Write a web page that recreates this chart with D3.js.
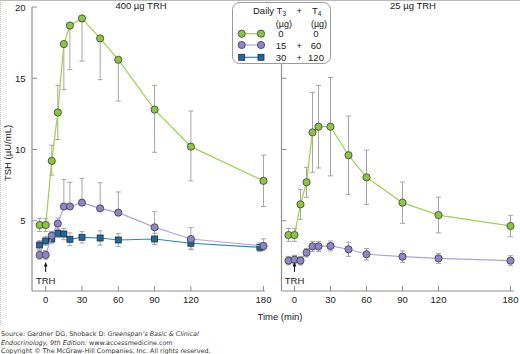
<!DOCTYPE html>
<html>
<head>
<meta charset="utf-8">
<script src="https://cdn.jsdelivr.net/npm/d3@7"></script>
<style>
    body { margin: 0; background: #fff; }
    svg { display: block; font-family: 'Liberation Sans', Arial, sans-serif; }
</style>
</head>
<body>
<div id="chart"></div>
<script>

//
// DATA
//

const times = [-5, 0, 5, 10, 15, 20, 30, 45, 60, 90, 120, 180];
const timesBlue = [-5, 0, 5, 10, 15, 20, 30, 45, 60, 90, 120, 177];
const xTicks = [0, 30, 60, 90, 120, 180];
const yTicks = [5, 10, 15, 20];

// 400 ug TRH
const greenHigh = [4.7, 4.7, 9.2, 12.6, 17.4, 18.7, 19.2, 17.8, 16.3, 12.8, 10.2, 7.8];
const greenHighUp = [0.45, 0.45, 1.1, 1.9, 0, 0, 0, 0, 0, 1.7, 2.5, 1.8];
const greenHighDown = [0.45, 0.45, 1.0, 1.9, 3.2, 3.1, 3.0, 2.9, 2.9, 3.0, 2.4, 1.8];
const purpleHigh = [2.6, 2.6, 3.95, 4.8, 6.0, 6.0, 6.27, 5.87, 5.57, 4.54, 3.72, 3.23];
const purpleHighUp = [0.3, 0.3, 0.3, 0.4, 1.9, 1.7, 1.7, 1.8, 1.45, 1.1, 0.8, 0.5];
const purpleHighDown = [0.3, 0.3, 0.3, 0.4, 0, 0, 0, 0, 0, 1.2, 0.75, 0.3];
const blueHigh = [3.3, 3.58, 3.72, 4.12, 4.07, 3.7, 3.84, 3.79, 3.65, 3.72, 3.42, 3.14];
const blueHighErr = [0.3, 0.3, 0.3, 0.3, 0.4, 0.45, 0.4, 0.5, 0.45, 0.4, 0.4, 0.3];

// 25 ug TRH
const greenLow = [4.0, 4.0, 6.15, 7.7, 11.2, 11.6, 11.6, 9.6, 8.05, 6.27, 5.4, 4.63];
const greenLowErr = [0.45, 0.45, 1.05, 1.05, 2.8, 2.9, 3.45, 2.75, 1.9, 1.45, 1.25, 0.75];
const purpleLow = [2.2, 2.27, 2.2, 2.76, 3.2, 3.2, 3.23, 3.0, 2.65, 2.48, 2.36, 2.2];
const purpleLowErr = [0.3, 0.3, 0.3, 0.3, 0.35, 0.35, 0.35, 0.5, 0.4, 0.4, 0.35, 0.35];

// legend rows
const legendT3 = ['0', '15', '30'];
const legendT4 = ['0', '60', '120'];
const legendPlus = ['', '+', '+'];

//
// STYLES
//

const green = {fill: '#8cc63e', line: '#9ad24e', shape: 'circle'};
const purple = {fill: '#8d85cc', line: '#aaa2de', shape: 'circle'};
const blue = {fill: '#1b6aa6', line: '#2a86c0', shape: 'square'};
const axisColor = '#8f8f8f';
const errColor = '#a6a6a6';

const width = 520;
const height = 354;

const svg = d3.select('#chart')
    .append('svg')
        .attr('width', width)
        .attr('height', height);

// image frame
svg.append('line')
    .attr('x1', 0.5).attr('x2', 0.5).attr('y1', 0).attr('y2', 325)
    .attr('stroke', '#bbb').attr('stroke-dasharray', '1,1');
svg.append('line')
    .attr('x1', 0).attr('x2', width).attr('y1', 0.5).attr('y2', 0.5)
    .attr('stroke', '#bbb');

// shared y scale
const y = d3.scaleLinear()
    .domain([0, 20])
    .range([292, 7]);

const panels = [
    {
        title: '400 µg TRH', titleX: 141,
        axisX: 32, axisTop: 7, axisRight: 265, labels: true,
        x: d3.scaleLinear().domain([0, 180]).range([45.7, 263.5]),
        series: [
            {style: blue, t: timesBlue, v: blueHigh, up: blueHighErr, down: blueHighErr},
            {style: purple, t: times, v: purpleHigh, up: purpleHighUp, down: purpleHighDown},
            {style: green, t: times, v: greenHigh, up: greenHighUp, down: greenHighDown}
        ]
    },
    {
        title: '25 µg TRH', titleX: 413,
        axisX: 281.5, axisTop: 7, axisRight: 514, labels: false,
        x: d3.scaleLinear().domain([0, 180]).range([294.5, 510.5]),
        series: [
            {style: purple, t: times, v: purpleLow, up: purpleLowErr, down: purpleLowErr},
            {style: green, t: times, v: greenLow, up: greenLowErr, down: greenLowErr}
        ]
    }
];

const axisY = 291;

panels.forEach(p => drawPanel(p));

function drawPanel(p) {

    const g = svg.append('g');
    const x = p.x;

    // title
    g.append('text')
        .attr('x', p.titleX)
        .attr('y', 9)
        .attr('text-anchor', 'middle')
        .attr('font-size', 9.5)
        .attr('fill', '#222')
        .text(p.title);

    // axes lines
    g.append('line')
        .attr('x1', p.axisX).attr('x2', p.axisX)
        .attr('y1', p.axisTop).attr('y2', axisY)
        .attr('stroke', axisColor).attr('stroke-width', 1.2);
    g.append('line')
        .attr('x1', p.axisX).attr('x2', p.axisRight)
        .attr('y1', axisY).attr('y2', axisY)
        .attr('stroke', axisColor).attr('stroke-width', 1.2);

    // y ticks (inward)
    g.selectAll('.ytick')
        .data(yTicks)
        .join('line')
            .attr('x1', p.axisX).attr('x2', p.axisX + 5)
            .attr('y1', d => y(d)).attr('y2', d => y(d))
            .attr('stroke', axisColor);
    if (p.labels) {
        g.selectAll('.ylab')
            .data(yTicks)
            .join('text')
                .attr('x', p.axisX - 6.5)
                .attr('y', d => y(d) + 3.5)
                .attr('text-anchor', 'end')
                .attr('font-size', 9.5)
                .attr('fill', '#222')
                .text(d => d);
    }

    // x ticks (inward)
    g.selectAll('.xtick')
        .data(xTicks)
        .join('line')
            .attr('x1', d => x(d)).attr('x2', d => x(d))
            .attr('y1', axisY).attr('y2', axisY - 5)
            .attr('stroke', axisColor);
    g.selectAll('.xlab')
        .data(xTicks)
        .join('text')
            .attr('x', d => x(d))
            .attr('y', 303)
            .attr('text-anchor', 'middle')
            .attr('font-size', 9.5)
            .attr('fill', '#222')
            .text(d => d);

    // error bars first, then lines and markers
    p.series.forEach(s => {
        const bars = s.t.map((t, i) => ({t: t, v: s.v[i], up: s.up[i], down: s.down[i]}));
        const eb = g.append('g')
            .attr('stroke', errColor)
            .attr('stroke-width', 1);
        eb.selectAll('.bar')
            .data(bars)
            .join('line')
                .attr('x1', d => x(d.t)).attr('x2', d => x(d.t))
                .attr('y1', d => y(d.v + d.up)).attr('y2', d => y(d.v - d.down));
        eb.selectAll('.capTop')
            .data(bars.filter(d => d.up > 0))
            .join('line')
                .attr('x1', d => x(d.t) - 2.5).attr('x2', d => x(d.t) + 2.5)
                .attr('y1', d => y(d.v + d.up)).attr('y2', d => y(d.v + d.up));
        eb.selectAll('.capBottom')
            .data(bars.filter(d => d.down > 0))
            .join('line')
                .attr('x1', d => x(d.t) - 2.5).attr('x2', d => x(d.t) + 2.5)
                .attr('y1', d => y(d.v - d.down)).attr('y2', d => y(d.v - d.down));
    });

    p.series.forEach(s => {
        const line = d3.line()
            .x((d, i) => x(s.t[i]))
            .y(d => y(d));
        g.append('path')
            .datum(s.v)
                .attr('fill', 'none')
                .attr('stroke', s.style.line)
                .attr('stroke-width', 1.2)
                .attr('d', line);
        drawMarkers(g, s.style, s.t.map((t, i) => [x(t), y(s.v[i])]));
    });

    // TRH arrow
    g.append('line')
        .attr('x1', x(0)).attr('x2', x(0))
        .attr('y1', 272).attr('y2', 265)
        .attr('stroke', '#111').attr('stroke-width', 1);
    g.append('path')
        .attr('d', d3.line()([[x(0) - 1.8, 266.5], [x(0), 262], [x(0) + 1.8, 266.5]]))
        .attr('fill', '#111');
    g.append('text')
        .attr('x', x(0))
        .attr('y', 283.5)
        .attr('text-anchor', 'middle')
        .attr('font-size', 9.5)
        .attr('fill', '#222')
        .text('TRH');
}

function drawMarkers(g, style, pts) {
    if (style.shape === 'circle') {
        g.selectAll(null)
            .data(pts)
            .join('circle')
                .attr('cx', d => d[0]).attr('cy', d => d[1])
                .attr('r', 3.6)
                .attr('fill', style.fill)
                .attr('stroke', '#3a3a3a')
                .attr('stroke-width', 0.8);
    } else {
        g.selectAll(null)
            .data(pts)
            .join('rect')
                .attr('x', d => d[0] - 3).attr('y', d => d[1] - 3)
                .attr('width', 6).attr('height', 6)
                .attr('fill', style.fill)
                .attr('stroke', '#2a2a2a')
                .attr('stroke-width', 0.8);
    }
}

//
// AXIS LABELS
//

svg.append('text')
    .attr('transform', 'translate(11,153) rotate(-90)')
    .attr('text-anchor', 'middle')
    .attr('font-size', 9.5)
    .attr('fill', '#222')
    .text('TSH (µU/mL)');

svg.append('text')
    .attr('x', 280)
    .attr('y', 320)
    .attr('text-anchor', 'middle')
    .attr('font-size', 9.5)
    .attr('fill', '#222')
    .text('Time (min)');

//
// LEGEND
//

const legend = svg.append('g');
legend.append('rect')
    .attr('x', 232.5).attr('y', 2.5)
    .attr('width', 98).attr('height', 61)
    .attr('rx', 7)
    .attr('fill', '#fff')
    .attr('stroke', '#999');

const head = legend.append('text')
    .attr('x', 253).attr('y', 13.5)
    .attr('font-size', 9.5).attr('fill', '#222');
head.append('tspan').text('Daily T');
head.append('tspan').attr('font-size', 6.5).attr('dy', 2.2).text('3');

legend.append('text')
    .attr('x', 299.3).attr('y', 13.5)
    .attr('text-anchor', 'middle')
    .attr('font-size', 9.5).attr('fill', '#222')
    .text('+');

const head4 = legend.append('text')
    .attr('x', 312).attr('y', 13.5)
    .attr('font-size', 9.5).attr('fill', '#222');
head4.append('tspan').text('T');
head4.append('tspan').attr('font-size', 6.5).attr('dy', 2.2).text('4');

[283.8, 319].forEach(cx => {
    legend.append('text')
        .attr('x', cx).attr('y', 26.5)
        .attr('text-anchor', 'middle')
        .attr('font-size', 9)
        .attr('fill', '#222')
        .text('(µg)');
});

const rowY = [33.7, 45, 57.3];
[green, purple, blue].forEach((style, i) => {
    legend.append('line')
        .attr('x1', 241.7).attr('x2', 261)
        .attr('y1', rowY[i]).attr('y2', rowY[i])
        .attr('stroke', style.line).attr('stroke-width', 1.2);
    drawMarkers(legend, style, [[241.7, rowY[i]], [261, rowY[i]]]);
    legend.append('text')
        .attr('x', 281).attr('y', rowY[i] + 3.5)
        .attr('text-anchor', 'middle')
        .attr('font-size', 9.5).attr('fill', '#222')
        .text(legendT3[i]);
    legend.append('text')
        .attr('x', 299.3).attr('y', rowY[i] + 3.5)
        .attr('text-anchor', 'middle')
        .attr('font-size', 9.5).attr('fill', '#222')
        .text(legendPlus[i]);
    legend.append('text')
        .attr('x', 316).attr('y', rowY[i] + 3.5)
        .attr('text-anchor', 'middle')
        .attr('font-size', 9.5).attr('fill', '#222')
        .text(legendT4[i]);
});

//
// SOURCE NOTE
//

const note = svg.append('g')
    .attr('font-family', "'DejaVu Sans', Verdana, sans-serif")
    .attr('font-size', 6.4)
    .attr('fill', '#333');

const l1 = note.append('text').attr('x', 1).attr('y', 336);
l1.append('tspan').text('Source: Gardner DG, Shoback D: ');
l1.append('tspan').attr('font-style', 'italic').text('Greenspan\u2019s Basic & Clinical');

const l2 = note.append('text').attr('x', 1).attr('y', 344.5);
l2.append('tspan').attr('font-style', 'italic').text('Endocrinology, 9th Edition:');
l2.append('tspan').text(' www.accessmedicine.com');

note.append('text').attr('x', 1).attr('y', 353)
    .text('Copyright \u00a9 The McGraw-Hill Companies, Inc. All rights reserved.');

</script>
</body>
</html>
